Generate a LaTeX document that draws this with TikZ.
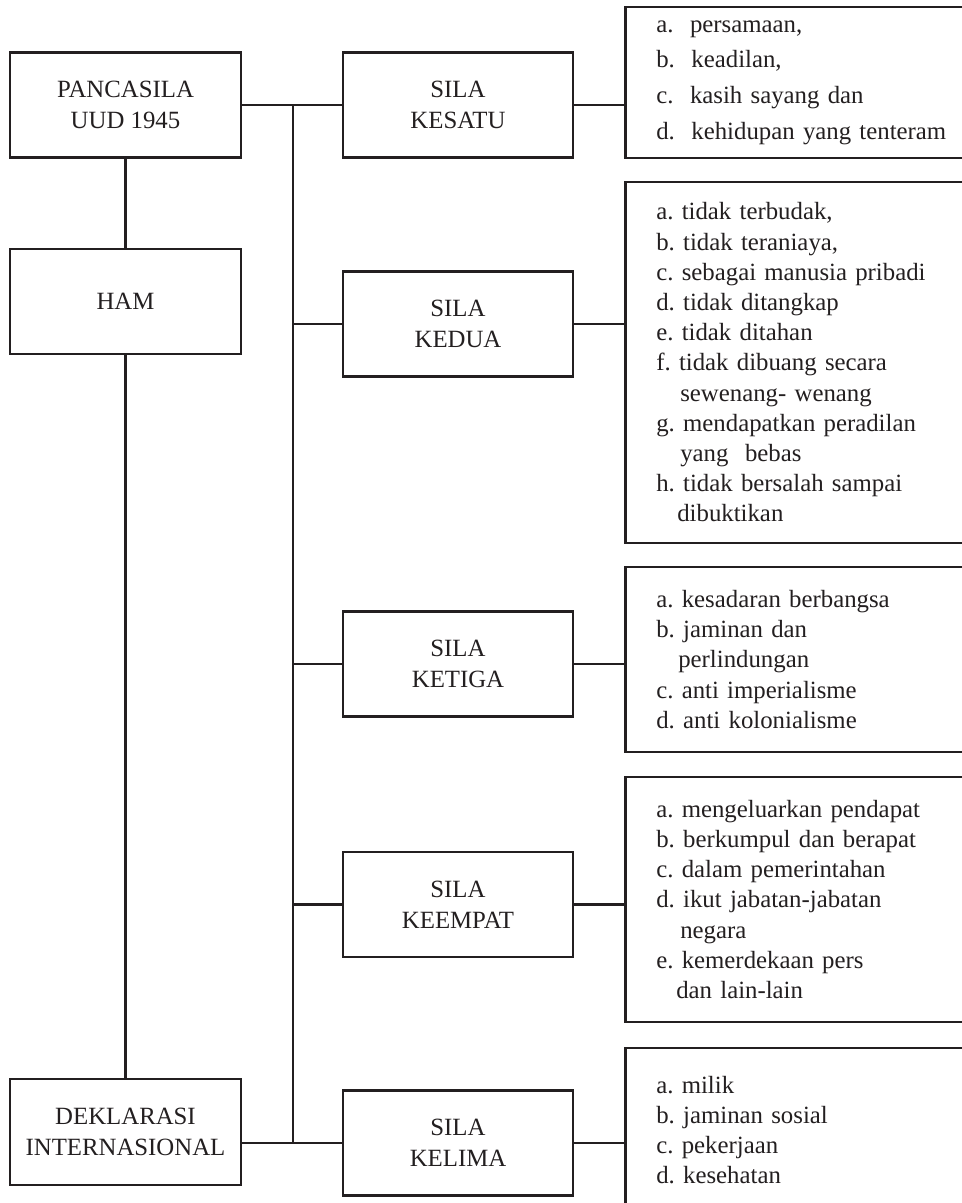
\documentclass[tikz,border=0pt]{standalone}
\usepackage{fontspec}
\setmainfont{Liberation Serif}
\definecolor{ink}{RGB}{35,31,32}
\frenchspacing
\begin{document}
\frenchspacing
\begin{tikzpicture}[x=0.5pt,y=-0.5pt,
  mainbox/.style={draw=ink, line width=1.3pt, fill=white, text=ink, align=center,
    minimum width=115.5pt, minimum height=52.5pt, inner sep=0pt,
    font={\fontsize{12.4}{15.5}\selectfont}},
  silabox/.style={mainbox, minimum width=115pt},
  listbox/.style={draw=ink, line width=1.3pt, text=ink, align=left, anchor=west,
    text width=180pt, inner xsep=15.5pt, inner ysep=0pt,
    font={\fontsize{12.4}{15.1}\selectfont}},
  conn/.style={draw=ink, line width=1.2pt}
]
\useasboundingbox (0,0) rectangle (962,1203);
\clip (0,0) rectangle (962,1203);

% left column
\node[mainbox] (pancasila) at (125.5,105) {PANCASILA\\UUD 1945};
\node[mainbox] (ham) at (125.5,301.5) {HAM};
\node[mainbox, minimum height=53pt] (deklarasi) at (125.5,1132) {DEKLARASI\\INTERNASIONAL};

% middle column
\node[silabox] (kesatu) at (458,105) {SILA\\KESATU};
\node[silabox] (kedua) at (458,324) {SILA\\KEDUA};
\node[silabox] (ketiga) at (458,664) {SILA\\KETIGA};
\node[silabox] (keempat) at (458,904.5) {SILA\\KEEMPAT};
\node[silabox] (kelima) at (458,1143) {SILA\\KELIMA};

% right column
\node[listbox, minimum height=75.5pt, font={\fontsize{12.4}{17.8}\selectfont}] (r1) at (624,82.5)
  {a.\ \ persamaan,\\b.\ \ keadilan,\\c.\ \ kasih sayang dan\\d.\ \ kehidupan yang tenteram};
\node[listbox, minimum height=180.5pt] (r2) at (624,362.5)
  {a. tidak terbudak,\\b. tidak teraniaya,\\c. sebagai manusia pribadi\\d. tidak ditangkap\\e. tidak ditahan\\f. tidak dibuang secara\\\hspace*{12pt}sewenang- wenang\\g. mendapatkan peradilan\\\hspace*{12pt}yang\ \ bebas\\h. tidak bersalah sampai\\\hspace*{10.5pt}dibuktikan};
\node[listbox, minimum height=92.5pt] (r3) at (624,659.5)
  {a. kesadaran berbangsa\\b. jaminan dan\\\hspace*{11pt}perlindungan\\c. anti imperialisme\\d. anti kolonialisme};
\node[listbox, minimum height=122.5pt] (r4) at (624,899.5)
  {a. mengeluarkan pendapat\\b. berkumpul dan berapat\\c. dalam pemerintahan\\d. ikut jabatan-jabatan\\\hspace*{12pt}negara\\e. kemerdekaan pers\\\hspace*{10pt}dan lain-lain};
\node[listbox, minimum height=82pt] (r5) at (624,1130)
  {a. milik\\b. jaminan sosial\\c. pekerjaan\\d. kesehatan};

% connectors
\coordinate (ttop) at (293,105);
\coordinate (tbot) at (293,1143);
\draw[conn] (pancasila.south) -- (ham.north);
\draw[conn] (ham.south) -- (deklarasi.north);
\draw[conn] (pancasila.east) -- (kesatu.west);
\draw[conn] (ttop) -- (tbot);
\draw[conn] (ttop |- kedua.west) -- (kedua.west);
\draw[conn] (ttop |- ketiga.west) -- (ketiga.west);
\draw[conn] (ttop |- keempat.west) -- (keempat.west);
\draw[conn] (deklarasi.east |- kelima.west) -- (kelima.west);
\draw[conn] (kesatu.east) -- (kesatu.east -| r1.west);
\draw[conn] (kedua.east) -- (kedua.east -| r2.west);
\draw[conn] (ketiga.east) -- (ketiga.east -| r3.west);
\draw[conn] (keempat.east) -- (keempat.east -| r4.west);
\draw[conn] (kelima.east) -- (kelima.east -| r5.west);
\end{tikzpicture}
\end{document}
